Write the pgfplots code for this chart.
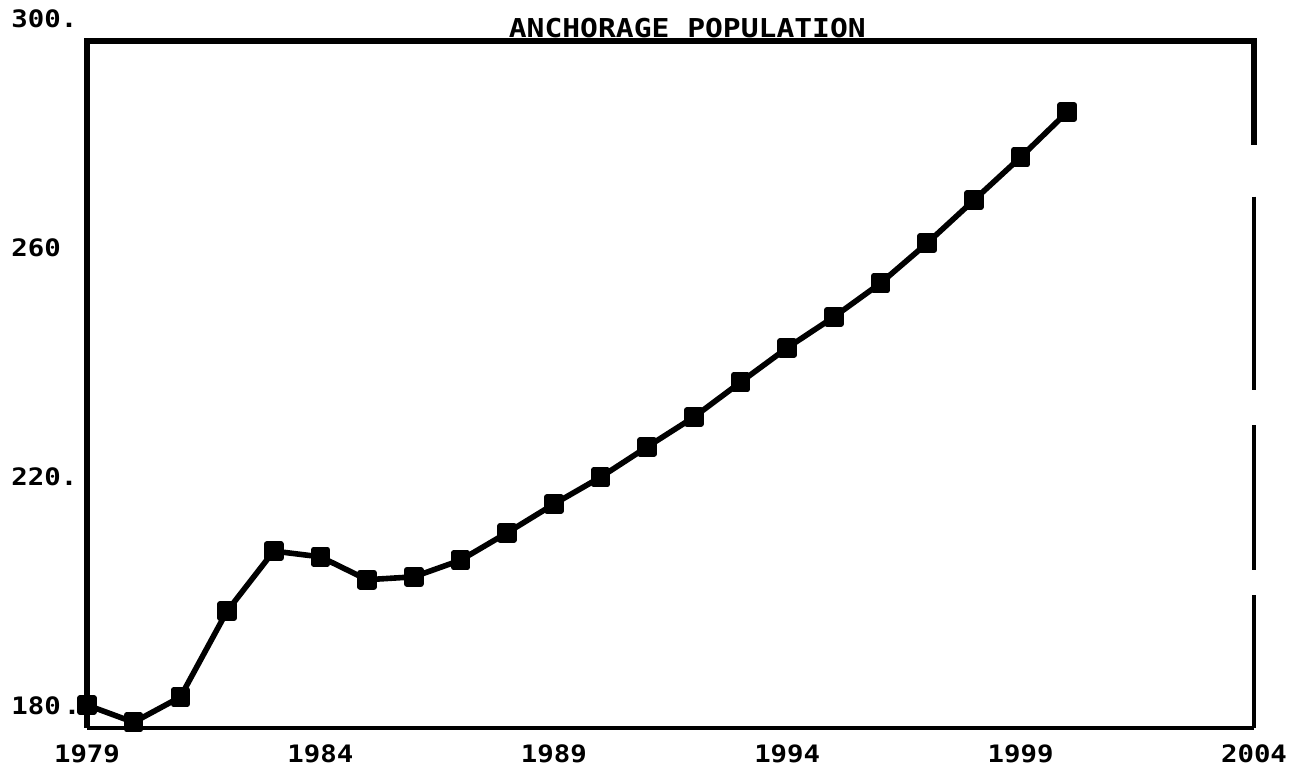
\documentclass[border=0pt]{standalone}
\usepackage{pgfplots}
\pgfplotsset{compat=1.18}
\usepackage{fontspec}
\setmainfont{DejaVu Sans Mono}[FakeStretch=1.14]
\begin{document}
\begin{tikzpicture}
\begin{axis}[
  scale only axis, width=583.5pt, height=343.5pt,
  xmin=1979, xmax=2004, ymin=180, ymax=300,
  xtick={1979,1984,1989,1994,1999,2004},
  xticklabels={1979,1984,1989,1994,1999,2004},
  ytick={180,220,260,300},
  yticklabels={180\hspace{1.5pt}.,220.,260,300.},
  major tick length=0pt,
  axis line style={draw=none},
  tick label style={font=\fontsize{12}{12}\selectfont\bfseries, inner sep=0pt},
  xticklabel style={anchor=north, yshift=-8pt},
  yticklabel style={anchor=base west, xshift=-38pt, yshift=6.5pt},
  clip=false,
]
\addplot[black, line width=2.8pt, line join=round, mark=square*, mark size=3.5pt, mark options={solid, fill=black}] coordinates {
 (1979,184.0) (1980,181.0) (1981,185.4) (1982,200.4) (1983,210.9)
 (1984,209.9) (1985,205.9) (1986,206.4) (1987,209.3) (1988,214.1)
 (1989,219.1) (1990,223.8) (1991,229.1) (1992,234.3) (1993,240.4)
 (1994,246.4) (1995,251.8) (1996,257.7) (1997,264.7) (1998,272.2)
 (1999,279.7) (2000,287.6)
};
\draw[line width=2.6pt] (axis cs:1979,180) -- (axis cs:1979,300) -- (axis cs:2004,300) -- (axis cs:2004,281.8);
\draw[line width=2.4pt] (axis cs:2004,272.8) -- (axis cs:2004,239.0);
\draw[line width=2.4pt] (axis cs:2004,232.9) -- (axis cs:2004,207.6);
\draw[line width=2.4pt] (axis cs:2004,203.2) -- (axis cs:2004,180);
\draw[line width=1.8pt] (axis cs:1979,180) -- (axis cs:2004,180);
\node[anchor=base, font=\fontsize{13}{13}\selectfont\bfseries, yshift=1.5pt] at (axis cs:1991.86,300) {ANCHORAGE POPULATION};
\end{axis}
\pgfresetboundingbox
\path ([xshift=-43.5pt,yshift=-21pt]current axis.south west) rectangle ([xshift=20.5pt,yshift=20.5pt]current axis.north east);
\end{tikzpicture}
\end{document}
